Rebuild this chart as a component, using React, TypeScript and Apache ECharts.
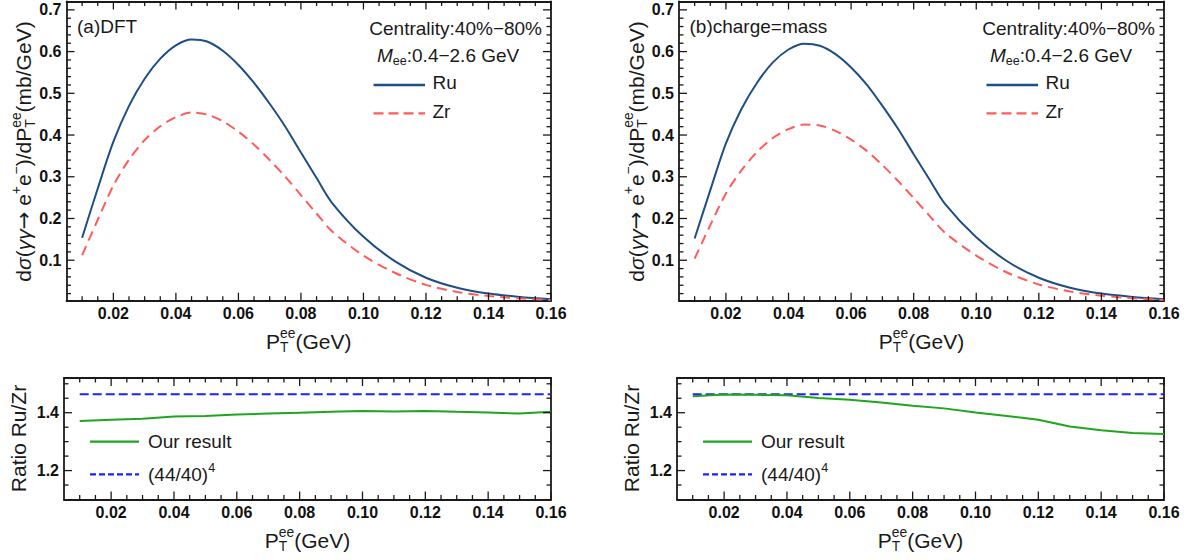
import React, { useEffect, useRef } from 'react';
import * as echarts from 'echarts';

// ---------------- data ----------------
const ptGrid = [0.01, 0.015, 0.02, 0.025, 0.03, 0.035, 0.04, 0.045, 0.05, 0.055, 0.06, 0.065, 0.07, 0.075, 0.08, 0.085, 0.09, 0.1, 0.11, 0.12, 0.13, 0.14, 0.15, 0.16];
const ruDFT = [0.154, 0.272, 0.384, 0.47, 0.535, 0.583, 0.615, 0.629, 0.624, 0.602, 0.568, 0.525, 0.475, 0.42, 0.358, 0.297, 0.237, 0.156, 0.098, 0.058, 0.034, 0.02, 0.012, 0.0065];
const zrDFT = [0.112, 0.197, 0.279, 0.341, 0.388, 0.421, 0.443, 0.454, 0.449, 0.433, 0.408, 0.377, 0.34, 0.3, 0.256, 0.212, 0.169, 0.111, 0.07, 0.041, 0.024, 0.0143, 0.0086, 0.0046];
const ruCM = [0.152, 0.268, 0.38, 0.463, 0.526, 0.574, 0.605, 0.619, 0.614, 0.594, 0.562, 0.521, 0.47, 0.415, 0.354, 0.294, 0.235, 0.155, 0.097, 0.058, 0.034, 0.02, 0.012, 0.0065];
const zrCM = [0.104, 0.184, 0.26, 0.316, 0.36, 0.393, 0.414, 0.425, 0.423, 0.41, 0.389, 0.362, 0.328, 0.29, 0.249, 0.207, 0.166, 0.111, 0.07, 0.042, 0.025, 0.015, 0.009, 0.0049];

const ptRatio = [0.01, 0.02, 0.03, 0.04, 0.05, 0.06, 0.07, 0.08, 0.09, 0.1, 0.11, 0.12, 0.13, 0.14, 0.15, 0.16];
const ratioDFT = [1.371, 1.376, 1.379, 1.387, 1.389, 1.394, 1.397, 1.4, 1.403, 1.406, 1.404, 1.406, 1.403, 1.401, 1.397, 1.403];
const ratioCM = [1.457, 1.463, 1.462, 1.46, 1.451, 1.445, 1.435, 1.424, 1.415, 1.401, 1.389, 1.376, 1.352, 1.339, 1.33, 1.326];
const scalingPt = [0.01, 0.16];
const scalingRatio = [1.4641, 1.4641]; // (44/40)^4

// tick values
const xMajorTicks = [0.02, 0.04, 0.06, 0.08, 0.1, 0.12, 0.14, 0.16];
const xMinorTicks = [0.01, 0.015, 0.025, 0.03, 0.035, 0.045, 0.05, 0.055, 0.065, 0.07, 0.075, 0.085, 0.09, 0.095, 0.105, 0.11, 0.115, 0.125, 0.13, 0.135, 0.145, 0.15, 0.155];
const yMajorTicks = [0.1, 0.2, 0.3, 0.4, 0.5, 0.6, 0.7];
const yMinorTicks = [0.02, 0.04, 0.06, 0.08, 0.12, 0.14, 0.16, 0.18, 0.22, 0.24, 0.26, 0.28, 0.32, 0.34, 0.36, 0.38, 0.42, 0.44, 0.46, 0.48, 0.52, 0.54, 0.56, 0.58, 0.62, 0.64, 0.66, 0.68];
const rMajorTicks = [1.2, 1.4];
const rMinorTicks = [1.15, 1.25, 1.3, 1.35, 1.45, 1.5];

const panelLabels = ['(a)DFT', '(b)charge=mass'];
const centralityText = 'Centrality:40%\u221280%';
const massText = ':0.4\u22122.6 GeV';
const seriesNames = ['Ru', 'Zr'];
const ratioNames = ['Our result', '(44/40)'];

// ---------------- styles ----------------
const FONT = '"Liberation Sans", Arial, Helvetica, sans-serif';
const ARROW_FONT = '"DejaVu Sans", "Liberation Sans", sans-serif';
const FRAME = '#1a1a1a';
const TEXT = '#1a1a1a';
const NAVY = '#1f4e87';
const SALMON = '#ff5b5b';
const GREEN = '#1fa51f';
const BLUE = '#2020ff';

const X_RANGE = [0.005, 0.16];
const Y_RANGE = [0.003, 0.72];
const R_RANGE = [1.1, 1.52];
const MAJOR_LEN = 8;
const MINOR_LEN = 4.5;

const grids = [
  { left: 66.5, top: 1.5, width: 484.5, height: 299.2 },
  { left: 679, top: 1.5, width: 485, height: 299.2 },
  { left: 64, top: 378, width: 487, height: 121.5 },
  { left: 677, top: 378, width: 487, height: 121.5 },
];

let measureCtx: CanvasRenderingContext2D | null = null;
function textWidth(t: string, size: number, italic = false, family = FONT): number {
  if (!measureCtx) measureCtx = document.createElement('canvas').getContext('2d');
  if (!measureCtx) return t.length * size * 0.55;
  measureCtx.font = `${italic ? 'italic ' : ''}${size}px ${family}`;
  return measureCtx.measureText(t).width;
}

type Piece = { t?: string; i?: boolean; f?: string; sup?: string; sub?: string };

function mathText(pieces: Piece[], size: number, x: number, y: number, align: 'left' | 'center' | 'right', rotation = 0) {
  const ss = size * 0.66;
  const children: any[] = [];
  let cx = 0;
  const mk = (t: string, xx: number, yy: number, sz: number, it?: boolean, fam = FONT) => ({
    type: 'text',
    x: xx,
    y: yy,
    silent: true,
    style: {
      text: t,
      fill: TEXT,
      font: `${it ? 'italic ' : ''}${sz}px ${fam}`,
      textAlign: 'left',
      textVerticalAlign: 'middle',
      align: 'left',
      verticalAlign: 'middle',
    },
  });
  for (const p of pieces) {
    if (p.t !== undefined) {
      const fam = p.f || FONT;
      children.push(mk(p.t, cx, 0, size, p.i, fam));
      cx += textWidth(p.t, size, p.i, fam);
    } else {
      let w = 0;
      if (p.sup) {
        children.push(mk(p.sup, cx, -size * 0.36, ss));
        w = Math.max(w, textWidth(p.sup, ss));
      }
      if (p.sub) {
        children.push(mk(p.sub, cx, size * 0.3, ss));
        w = Math.max(w, textWidth(p.sub, ss));
      }
      cx += w;
    }
  }
  const off = align === 'left' ? 0 : align === 'center' ? -cx / 2 : -cx;
  children.forEach((c) => (c.x += off));
  return { type: 'group', x, y, rotation, children };
}

function seg(x1: number, y1: number, x2: number, y2: number, color: string, width: number, dash?: number[]) {
  const style: any = { stroke: color, lineWidth: width };
  if (dash) style.lineDash = dash;
  return { type: 'line', silent: true, z: 10, shape: { x1, y1, x2, y2 }, style };
}

function axesFor(g: number, dim: 'x' | 'y', range: number[], major: number[], digits: number) {
  const pos = dim === 'x' ? ['bottom', 'top'] : ['left', 'right'];
  const common = { type: 'value', gridIndex: g, min: range[0], max: range[1], splitLine: { show: false }, axisTick: { show: false } };
  const frameLine = { show: true, onZero: false, lineStyle: { color: FRAME, width: 1.8 } };
  return [
    {
      ...common,
      position: pos[0],
      axisLine: frameLine,
      axisLabel: {
        show: true,
        customValues: major,
        formatter: (v: number) => v.toFixed(digits),
        fontFamily: FONT,
        fontWeight: 'bold',
        fontSize: 16,
        color: '#111',
        margin: 5,
      },
    },
    { ...common, position: pos[1], axisLine: frameLine, axisLabel: { show: false } },
  ];
}

const zip = (xs: number[], ys: number[]) => xs.map((x, i) => [x, ys[i]]);

// inward frame ticks on all four sides; positions follow the same linear value axes as the grid
function tickElements() {
  const out: any[] = [];
  for (let g = 0; g < 4; g++) {
    const gr = grids[g];
    const yr = g < 2 ? Y_RANGE : R_RANGE;
    const yMajor = g < 2 ? yMajorTicks : rMajorTicks;
    const yMinor = g < 2 ? yMinorTicks : rMinorTicks;
    const top = gr.top;
    const bottom = gr.top + gr.height;
    const left = gr.left;
    const right = gr.left + gr.width;
    const xp = (v: number) => left + ((v - X_RANGE[0]) / (X_RANGE[1] - X_RANGE[0])) * gr.width;
    const yp = (v: number) => bottom - ((v - yr[0]) / (yr[1] - yr[0])) * gr.height;
    const xt = (v: number, len: number) => {
      const px = xp(v);
      out.push(seg(px, bottom, px, bottom - len, FRAME, 1.3));
      out.push(seg(px, top, px, top + len, FRAME, 1.3));
    };
    const yt = (v: number, len: number) => {
      const py = yp(v);
      out.push(seg(left, py, left + len, py, FRAME, 1.3));
      out.push(seg(right, py, right - len, py, FRAME, 1.3));
    };
    xMajorTicks.forEach((v) => xt(v, MAJOR_LEN));
    xMinorTicks.forEach((v) => xt(v, MINOR_LEN));
    yMajor.forEach((v) => yt(v, MAJOR_LEN));
    yMinor.forEach((v) => yt(v, MINOR_LEN));
  }
  return out;
}

function staticElements() {
  const elements: any[] = [];
  const ptTitle: Piece[] = [{ t: 'P' }, { sup: 'ee', sub: 'T' }, { t: '(GeV)' }];
  const yTitle: Piece[] = [
    { t: 'd' }, { t: '\u03c3', i: true }, { t: '(' }, { t: '\u03b3\u03b3', i: true }, { t: '\u2192', f: ARROW_FONT }, { t: ' e' }, { sup: '+' },
    { t: 'e' }, { sup: '\u2212' }, { t: ')/dP' }, { sup: 'ee', sub: 'T' }, { t: '(mb/GeV)' },
  ];
  for (let g = 0; g < 2; g++) {
    const gr = grids[g];
    const L = gr.left;
    const R = gr.left + gr.width;
    elements.push(mathText([{ t: panelLabels[g] }], 19, L + 10.5, 26, 'left'));
    elements.push(mathText([{ t: centralityText }], 19, R - 9, 28.5, 'right'));
    elements.push(mathText([{ t: 'M', i: true }, { sub: 'ee' }, { t: massText }], 19, R - 174, 55, 'left'));
    elements.push(seg(R - 177.5, 85, R - 126, 85, NAVY, 2.4));
    elements.push(mathText([{ t: seriesNames[0] }], 19, R - 118.5, 82, 'left'));
    elements.push(seg(R - 177.5, 113.3, R - 126, 113.3, SALMON, 2.2, [10, 5]));
    elements.push(mathText([{ t: seriesNames[1] }], 19, R - 118.5, 111, 'left'));
    elements.push(mathText(ptTitle, 21, L + gr.width / 2, 341, 'center'));
    elements.push(mathText(yTitle, 21, L - 43, 151.5, 'center', Math.PI / 2));
  }
  for (let g = 2; g < 4; g++) {
    const gr = grids[g];
    const L = gr.left;
    elements.push(seg(L + 26, 441.7, L + 75, 441.7, GREEN, 2.2));
    elements.push(mathText([{ t: ratioNames[0] }], 19, L + 84, 441.5, 'left'));
    elements.push(seg(L + 26, 474.3, L + 75, 474.3, BLUE, 2.2, [6, 3]));
    elements.push(mathText([{ t: ratioNames[1] }, { sup: '4' }], 19, L + 84, 474.5, 'left'));
    elements.push(mathText(ptTitle, 21, L + gr.width / 2, 540, 'center'));
    elements.push(mathText([{ t: 'Ratio Ru/Zr' }], 21, L - 45.5, 438.5, 'center', Math.PI / 2));
  }
  return elements;
}

function buildOption() {
  const xAxis: any[] = [];
  const yAxis: any[] = [];
  for (let g = 0; g < 4; g++) {
    xAxis.push(...axesFor(g, 'x', X_RANGE, xMajorTicks, 2));
    if (g < 2) yAxis.push(...axesFor(g, 'y', Y_RANGE, yMajorTicks, 1));
    else yAxis.push(...axesFor(g, 'y', R_RANGE, rMajorTicks, 1));
  }

  const line = (g: number, name: string, xs: number[], ys: number[], color: string, width: number, dash?: number[], smooth: number | boolean = false) => ({
    type: 'line',
    name,
    xAxisIndex: g * 2,
    yAxisIndex: g * 2,
    data: zip(xs, ys),
    symbol: 'none',
    showSymbol: false,
    silent: true,
    smooth,
    lineStyle: { color, width, type: dash || 'solid' },
    z: 3,
  });

  const series: any[] = [
    line(0, seriesNames[0], ptGrid, ruDFT, NAVY, 2, undefined, 0.3),
    line(0, seriesNames[1], ptGrid, zrDFT, SALMON, 2, [10, 6], 0.3),
    line(1, seriesNames[0], ptGrid, ruCM, NAVY, 2, undefined, 0.3),
    line(1, seriesNames[1], ptGrid, zrCM, SALMON, 2, [10, 6], 0.3),
    line(2, ratioNames[1], scalingPt, scalingRatio, BLUE, 2, [9, 4]),
    line(2, ratioNames[0], ptRatio, ratioDFT, GREEN, 2),
    line(3, ratioNames[1], scalingPt, scalingRatio, BLUE, 2, [9, 4]),
    line(3, ratioNames[0], ptRatio, ratioCM, GREEN, 2),
  ];

  return {
    animation: false,
    grid: grids.map((g) => ({ ...g })),
    xAxis,
    yAxis,
    series,
    graphic: { elements: [...staticElements(), ...tickElements()] },
  };
}

export default function App() {
  const ref = useRef<HTMLDivElement>(null);
  useEffect(() => {
    if (!ref.current) return;
    const chart = echarts.init(ref.current, null, { renderer: 'svg' });
    chart.setOption(buildOption() as any);
    return () => chart.dispose();
  }, []);
  return (
    <div
      ref={ref}
      style={{ position: 'absolute', left: 0, top: 0, width: 1189, height: 560, background: '#fff' }}
    />
  );
}
